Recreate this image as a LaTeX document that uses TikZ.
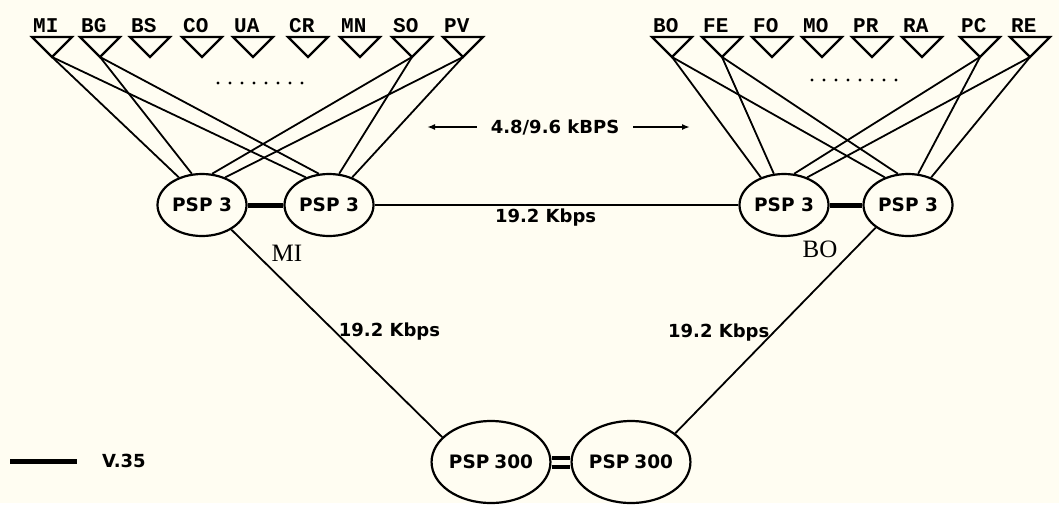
\documentclass[tikz,border=0pt]{standalone}
\usepackage{fontspec}
\newfontfamily\pspfont{DejaVu Sans}
\newfontfamily\termfont{Liberation Mono}
\newfontfamily\sitefont{Liberation Serif}
\usetikzlibrary{shapes.geometric,arrows.meta}
\definecolor{paper}{RGB}{255,253,242}

\begin{document}
\begin{tikzpicture}[x=1pt, y=-1pt,
      psp/.style={ellipse, draw, line width=2.2pt, minimum width=89pt, minimum height=62pt, inner sep=0pt, font=\pspfont\bfseries\fontsize{18.5}{18.5}\selectfont},
      big/.style={psp, minimum width=112pt, minimum height=82pt},
      term/.style={draw, line width=2.2pt, line join=miter},
      tlabel/.style={anchor=base west, inner sep=0pt, font=\termfont\bfseries\fontsize{21}{21}\selectfont},
      lbl/.style={font=\pspfont\bfseries\fontsize{18}{18}\selectfont},
      site/.style={font=\sitefont\fontsize{25}{25}\selectfont},
      link/.style={line width=1.8pt},
      v35/.style={line width=5pt}]
            \fill[paper] (0,0) rectangle (1059,503);
%           terminals
            \foreach \n/\x in {MI/52,BG/100,BS/150,CO/202,UA/253,CR/308,MN/360,SO/412,PV/463,
                               BO/672,FE/722,FO/772,MO/822,PR/872,RA/922,PC/980,RE/1030} {
                \draw[term] (\x-20,37) -- (\x+20,37) -- (\x,57) -- cycle;
                \coordinate (t\n) at (\x,57);
                \node[tlabel] (l\n) at (\x-19,32) {\n};
            }
            \foreach \i in {0,...,7} {
                \fill (218+12*\i,83) circle (1.6pt);
                \fill (812+12*\i,80) circle (1.6pt);
            }
            \node[psp] (L1) at (202,205) {PSP 3};
            \node[psp] (L2) at (329,205) {PSP 3};
            \node[psp] (R1) at (784,205) {PSP 3};
            \node[psp] (R2) at (908,205) {PSP 3};
            \node[big] (B1) at (491,462) {PSP\hspace{5pt}300};
            \node[big] (B2) at (631,462) {PSP\hspace{5pt}300};
            \node[site] (mi) at (287,253) {MI};
            \node[site] (bo) at (820,249) {BO};
            \draw[link] (tMI) -- (L1.130);
            \draw[link] (tMI) -- (L2.130);
            \draw[link] (tBG) -- (L1.108);
            \draw[link] (tBG) -- (L2.108);
            \draw[link] (tSO) -- (L1.72);
            \draw[link] (tSO) -- (L2.72);
            \draw[link] (tPV) -- (L1.50);
            \draw[link] (tPV) -- (L2.50);
            \draw[link] (tBO) -- (R1.130);
            \draw[link] (tBO) -- (R2.130);
            \draw[link] (tFE) -- (R1.108);
            \draw[link] (tFE) -- (R2.108);
            \draw[link] (tPC) -- (R1.72);
            \draw[link] (tPC) -- (R2.72);
            \draw[link] (tRE) -- (R1.50);
            \draw[link] (tRE) -- (R2.50);
            \draw[v35] (L1) -- (L2);
            \draw[v35] (R1) -- (R2);
            \draw[line width=4pt, double=paper, double distance=5pt] (B1) -- (B2);
            \draw[link] (L2) -- node[lbl, below, pos=.47] (k1) {19.2 Kbps} (R1);
            \draw[link] (L1.-40) -- node[lbl, right, pos=.49] (k2) {19.2 Kbps} (B1.153);
            \draw[link] (R2.-145) -- node[lbl, left, pos=.51] (k3) {19.2 Kbps} (B2.33);
%           line speed of the terminals
            \node[lbl, inner xsep=14pt] (rate) at (555,127) {4.8/9.6 kBPS};
            \coordinate (ra) at (427,127);
            \coordinate (rb) at (690,127);
            \draw[link, -{Latex[length=8pt,width=6pt]}] (rate.west) -- (ra);
            \draw[link, -{Latex[length=8pt,width=6pt]}] (rate.east) -- (rb);
%           legend
            \coordinate (va) at (10,461);
            \coordinate (vb) at (77,461);
            \node[lbl, anchor=west, inner sep=0pt] (legend) at (102,461) {V.35};
            \draw[v35] (va) -- (vb);
      \end{tikzpicture}
\end{document}
